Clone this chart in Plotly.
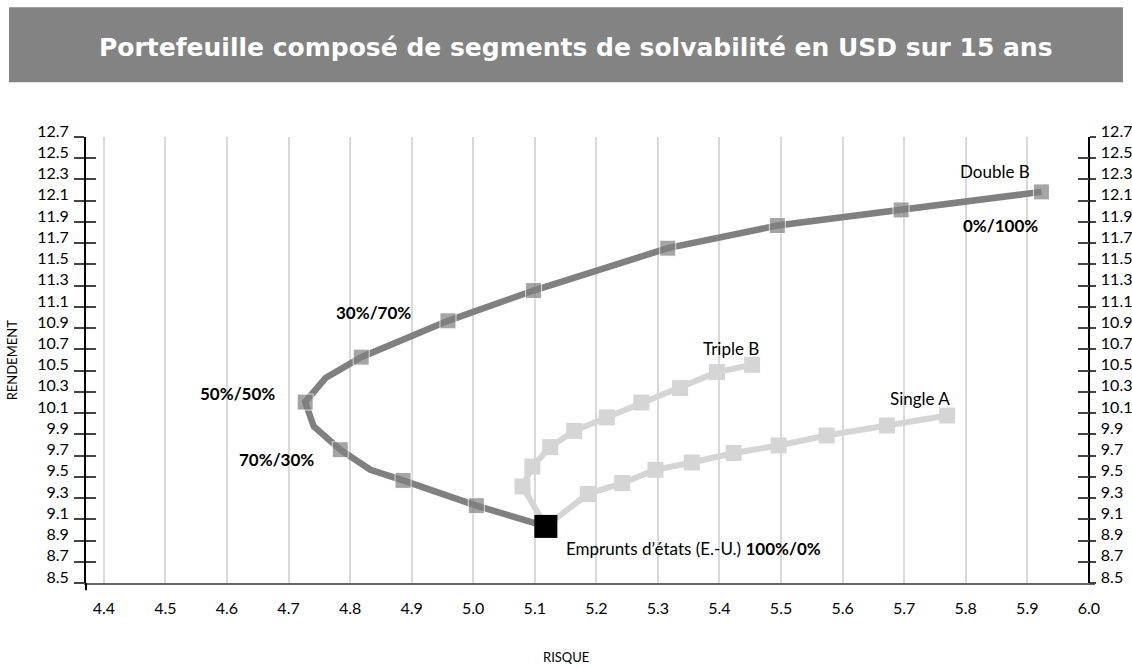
import plotly.graph_objects as go

# ---- data ----
double_b_x = [5.118, 5.005, 4.886, 4.833, 4.784, 4.741, 4.727, 4.760, 4.818, 4.959, 5.098, 5.316, 5.494, 5.695, 5.923]
double_b_y = [9.033, 9.228, 9.466, 9.566, 9.755, 9.974, 10.204, 10.430, 10.627, 10.969, 11.254, 11.653, 11.866, 12.013, 12.183]
double_b_marked = [1, 1, 1, 0, 1, 0, 1, 0, 1, 1, 1, 1, 1, 1, 1]

triple_b_x = [5.118, 5.080, 5.096, 5.125, 5.164, 5.217, 5.273, 5.336, 5.396, 5.453]
triple_b_y = [9.033, 9.409, 9.597, 9.780, 9.933, 10.059, 10.200, 10.335, 10.486, 10.555]

single_a_x = [5.118, 5.186, 5.242, 5.296, 5.355, 5.423, 5.496, 5.574, 5.672, 5.770]
single_a_y = [9.033, 9.338, 9.441, 9.566, 9.635, 9.724, 9.795, 9.889, 9.983, 10.077]

gov_x = [5.118]
gov_y = [9.033]

x_ticks = [4.4, 4.5, 4.6, 4.7, 4.8, 4.9, 5.0, 5.1, 5.2, 5.3, 5.4, 5.5, 5.6, 5.7, 5.8, 5.9, 6.0]
y_ticks = [8.5, 8.7, 8.9, 9.1, 9.3, 9.5, 9.7, 9.9, 10.1, 10.3, 10.5, 10.7, 10.9,
           11.1, 11.3, 11.5, 11.7, 11.9, 12.1, 12.3, 12.5, 12.7]
x_tick_text = [f"{v:.1f}" for v in x_ticks]
y_tick_text = [f"{v:.1f}" for v in y_ticks]

title_text = "Portefeuille composé de segments de solvabilité en USD sur 15 ans"

FONT = "Lato, 'Open Sans', sans-serif"
TITLE_FONT = "'DejaVu Sans', Lato, sans-serif"
DARK = "#808080"
LIGHT = "#d5d5d5"

fig = go.Figure()

fig.add_trace(go.Scatter(x=triple_b_x, y=triple_b_y, mode="lines+markers",
                         line=dict(color=LIGHT, width=6),
                         marker=dict(symbol="square", size=16, color=LIGHT),
                         name="Triple B", showlegend=False, hoverinfo="x+y"))
fig.add_trace(go.Scatter(x=single_a_x, y=single_a_y, mode="lines+markers",
                         line=dict(color=LIGHT, width=6),
                         marker=dict(symbol="square", size=16, color=LIGHT),
                         name="Single A", showlegend=False, hoverinfo="x+y"))
fig.add_trace(go.Scatter(x=double_b_x, y=double_b_y, mode="lines+markers",
                         line=dict(color=DARK, width=6.5),
                         marker=dict(symbol="square", size=[16 * m for m in double_b_marked], color=DARK),
                         name="Double B", showlegend=False, hoverinfo="x+y"))
fig.add_trace(go.Scatter(x=gov_x, y=gov_y, mode="markers",
                         marker=dict(symbol="square", size=23, color="black"),
                         name="Emprunts d’états (E.-U.)", showlegend=False, hoverinfo="x+y"))
# invisible helpers so that the extra tick axes are drawn
for ax in ["y2", "y3", "y4"]:
    fig.add_trace(go.Scatter(x=gov_x, y=gov_y, yaxis=ax, mode="markers",
                             marker=dict(opacity=0, size=1), showlegend=False, hoverinfo="skip"))

ann_font = dict(family=FONT, size=17, color="black")
labels = [
    (5.848, 12.374, "Double B", "center"),
    (5.856, 11.866, "<b>0%/100%</b>", "center"),
    (5.726, 10.235, "Single A", "center"),
    (5.418, 10.712, "Triple B", "center"),
    (4.838, 11.051, "<b>30%/70%</b>", "center"),
    (4.617, 10.288, "<b>50%/50%</b>", "center"),
    (4.680, 9.660, "<b>70%/30%</b>", "center"),
    (5.147, 8.823, "Emprunts d’états (E.-U.) <b>100%/0%</b>", "left"),
]
for x, y, t, xa in labels:
    fig.add_annotation(x=x, y=y, text=t, showarrow=False, xanchor=xa, yanchor="middle",
                       font=ann_font)

# title band
fig.add_shape(type="rect", xref="paper", yref="paper", x0=-0.0763, x1=1.0277, y0=1.1226, y1=1.2907,
              fillcolor="#838383", line=dict(width=0), layer="below")
fig.add_annotation(xref="paper", yref="paper", x=0.4856, y=1.2017, text="<b>" + title_text + "</b>",
                   showarrow=False, xanchor="center", yanchor="middle",
                   font=dict(family=TITLE_FONT, size=25, color="white"))

# axis titles
fig.add_annotation(xref="paper", yref="paper", x=-0.073, y=0.5, text="RENDEMENT", textangle=-90,
                   showarrow=False, xanchor="center", yanchor="middle",
                   font=dict(family=FONT, size=13, color="black"))
fig.add_annotation(xref="paper", yref="paper", x=0.4757, y=-0.165, text="RISQUE",
                   showarrow=False, xanchor="center", yanchor="middle",
                   font=dict(family=FONT, size=13, color="black"))

# left axis extension below x-axis
fig.add_shape(type="line", xref="paper", yref="paper", x0=0, x1=0, y0=-0.016, y1=0,
              line=dict(color="black", width=2))

tickfont = dict(family=FONT, size=16, color="black")
fig.update_layout(
    width=1132, height=667,
    margin=dict(l=86, r=37, t=137, b=84, autoexpand=False),
    paper_bgcolor="white", plot_bgcolor="white",
    xaxis=dict(range=[4.371, 6.01], tickvals=x_ticks, ticktext=x_tick_text,
               showgrid=True, gridcolor="#d9d9d9", gridwidth=1.5,
               showline=True, linecolor="#666666", linewidth=2,
               ticks="", zeroline=False, tickfont=tickfont, ticklabelstandoff=10,
               automargin=False),
    yaxis=dict(range=[8.5, 12.7], tickvals=y_ticks, ticktext=y_tick_text,
               showgrid=False, zeroline=False,
               showline=True, linecolor="black", linewidth=2,
               ticks="outside", ticklen=10, tickcolor="#444444", tickwidth=1.5,
               tickfont=tickfont, ticklabelshift=-6, ticklabelstandoff=2,
               automargin=False),
    yaxis2=dict(range=[8.5, 12.7], tickvals=y_ticks, ticktext=y_tick_text,
                overlaying="y", side="right", anchor="free", position=0.9937,
                showgrid=False, zeroline=False,
                showline=True, linecolor="black", linewidth=2,
                ticks="outside", ticklen=6, tickcolor="#444444", tickwidth=1.5,
                tickfont=tickfont, ticklabelshift=-6, ticklabelstandoff=2,
                automargin=False),
    yaxis3=dict(range=[8.5, 12.7], tickvals=y_ticks, showticklabels=False,
                overlaying="y", side="right", anchor="free", position=0.9937,
                showgrid=False, zeroline=False, showline=False,
                ticks="inside", ticklen=11, tickcolor="#444444", tickwidth=1.5,
                automargin=False),
    yaxis4=dict(range=[8.5, 12.7], tickvals=y_ticks, showticklabels=False,
                overlaying="y", side="left", anchor="x",
                showgrid=False, zeroline=False, showline=False,
                ticks="inside", ticklen=10, tickcolor="#444444", tickwidth=1.5,
                automargin=False),
    showlegend=False,
)

fig.write_html("out.html", config={"displayModeBar": False},
               post_script="document.body.style.margin='0';document.body.style.overflow='hidden';")
